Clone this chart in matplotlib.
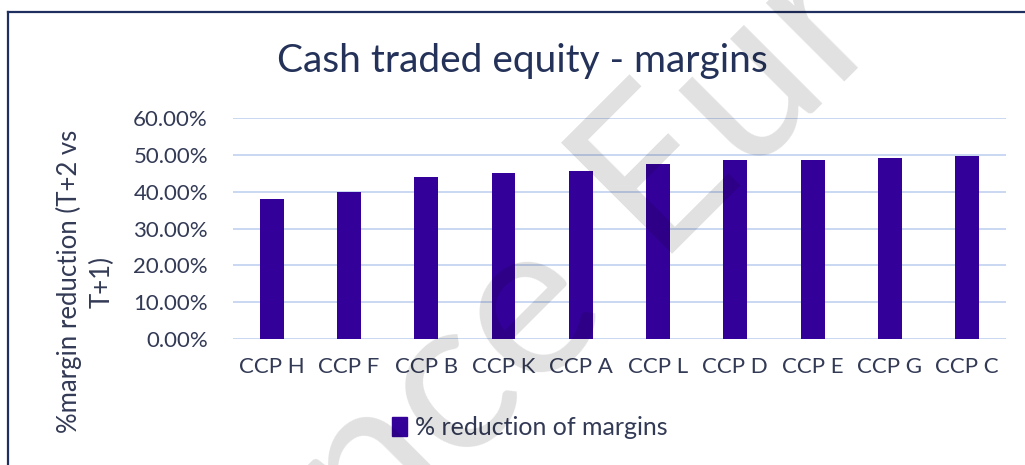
import matplotlib.pyplot as plt
from matplotlib.lines import Line2D
from matplotlib.patches import Patch
from matplotlib.ticker import FuncFormatter

# данные с графика
ccps = ['CCP H', 'CCP F', 'CCP B', 'CCP K', 'CCP A', 'CCP L', 'CCP D', 'CCP E', 'CCP G', 'CCP C']
reduction = [0.380, 0.398, 0.439, 0.451, 0.457, 0.474, 0.486, 0.486, 0.491, 0.497]
y_ticks = [0.0, 0.1, 0.2, 0.3, 0.4, 0.5, 0.6]

bar_color = '#33009A'
text_color = '#333a55'

plt.rcParams['font.family'] = ['Lato', 'DejaVu Sans']

fig = plt.figure(figsize=(10.25, 4.65), dpi=100)
ax = fig.add_axes([0.2273, 0.271, 0.754, 0.475])

x = range(len(ccps))
ax.bar(x, reduction, width=0.31, color=bar_color, zorder=3)

ax.set_xlim(-0.5, len(ccps) - 0.5)
ax.set_ylim(0, 0.6)
ax.set_yticks(y_ticks)
ax.yaxis.set_major_formatter(FuncFormatter(lambda v, p: f'{v * 100:.2f}%'))
ax.set_xticks(list(x))
ax.set_xticklabels(ccps)
ax.grid(axis='y', color='#c9d7f2', linewidth=1.4, zorder=0)
for s in ax.spines.values():
    s.set_visible(False)
ax.tick_params(axis='both', length=0, labelsize=16, colors=text_color)
ax.tick_params(axis='y', pad=18)
ax.tick_params(axis='x', pad=13)

# заголовок и подпись оси
fig.text(0.510, 0.845, 'Cash traded equity - margins', ha='center', va='baseline',
         fontsize=28, color='#243259')
fig.text(0.083, 0.394, '%margin reduction (T+2 vs\nT+1)', rotation=90, ha='center',
         va='center', multialignment='center', fontsize=18.5, color=text_color, linespacing=1.35)

# легенда
fig.legend(handles=[Patch(color=bar_color, label='% reduction of margins')],
           loc='center', bbox_to_anchor=(0.517, 0.08), frameon=False, fontsize=18,
           handlelength=0.6, handleheight=0.75, handletextpad=0.3, labelcolor=text_color)

# водяной знак (видимая часть)
fig.text(610 / 1025, 1 - 305 / 465, 'nce', rotation=45, rotation_mode='anchor', ha='right',
         va='baseline', fontsize=158, color='black', alpha=0.12, zorder=10)
fig.text(652 / 1025, 1 - 254 / 465, 'Eur', rotation=45, rotation_mode='anchor', ha='left',
         va='baseline', fontsize=158, color='black', alpha=0.12, zorder=10)

# рамка
fig.add_artist(Line2D([8 / 1025, 8 / 1025], [0, 1 - 12 / 465], color='#1f2f5f', linewidth=1.6))
fig.add_artist(Line2D([8 / 1025, 1], [1 - 12 / 465, 1 - 12 / 465], color='#1f2f5f', linewidth=1.6))

fig.savefig('out.png', dpi=100)
